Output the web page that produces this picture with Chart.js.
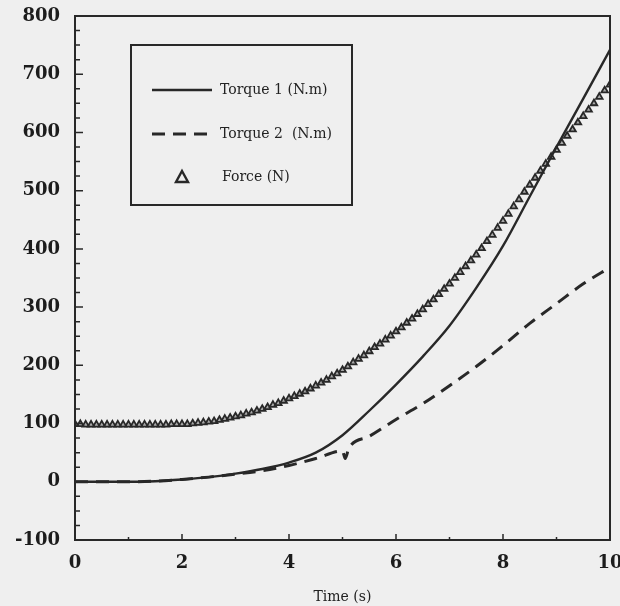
<!DOCTYPE html>
<html>
<head>
<meta charset="utf-8">
<script src="https://cdn.jsdelivr.net/npm/chart.js@4.4.1/dist/chart.umd.min.js"></script>
<style>
html,body{margin:0;padding:0;background:#efefef;}
#wrap{width:620px;height:606px;position:relative;}
</style>
</head>
<body>
<div id="wrap"><canvas id="c" width="620" height="606"></canvas></div>
<script>
// ---------- data ----------
const xTickLabels = [0, 2, 4, 6, 8, 10];
const yTickLabels = [-100, 0, 100, 200, 300, 400, 500, 600, 700, 800];

const torque1Time  = [0, 0.5, 1, 1.5, 2, 2.5, 3, 3.5, 4, 4.5, 5, 5.5, 6, 6.5, 7, 7.5, 8, 8.5, 9, 9.5, 10];
const torque1Value = [0, 0, 0, 1, 4, 8, 14, 22, 33, 50, 80, 122, 167, 215, 268, 333, 405, 490, 575, 658, 742];

const torque2Time  = [0, 0.5, 1, 1.5, 2, 2.5, 3, 3.5, 4, 4.5, 5, 5.05, 5.12, 5.5, 6, 6.5, 7, 7.5, 8, 8.5, 9, 9.5, 10];
const torque2Value = [0, 0, 0, 1, 4, 8, 13, 19, 28, 40, 53, 40, 58, 78, 107, 134, 165, 198, 234, 272, 306, 340, 368];

const forceTime = [0,0.1,0.2,0.3,0.4,0.5,0.6,0.7,0.8,0.9,1,1.1,1.2,1.3,1.4,1.5,1.6,1.7,1.8,1.9,2,2.1,2.2,2.3,2.4,2.5,2.6,2.7,2.8,2.9,3,3.1,3.2,3.3,3.4,3.5,3.6,3.7,3.8,3.9,4,4.1,4.2,4.3,4.4,4.5,4.6,4.7,4.8,4.9,5,5.1,5.2,5.3,5.4,5.5,5.6,5.7,5.8,5.9,6,6.1,6.2,6.3,6.4,6.5,6.6,6.7,6.8,6.9,7,7.1,7.2,7.3,7.4,7.5,7.6,7.7,7.8,7.9,8,8.1,8.2,8.3,8.4,8.5,8.6,8.7,8.8,8.9,9,9.1,9.2,9.3,9.4,9.5,9.6,9.7,9.8,9.9,10];
const forceValue = [99,99,98,98,98,98,98,98,98,98,98,98,98,98,98,98,98,98,99,99,99,99,100,101,102,103,104,106,108,110,112,114,117,119,122,125,128,132,135,139,143,147,151,155,160,165,170,175,181,186,192,198,205,211,217,224,231,237,244,251,258,265,273,280,288,296,305,313,322,331,340,350,360,370,380,390,401,413,424,436,448,460,473,485,498,510,522,534,546,558,570,582,594,605,617,628,639,650,661,672,682];

const seriesNames = ['Torque 1 (N.m)', 'Torque 2  (N.m)', 'Force (N)'];
const xTitle = 'Time (s)';

// ---------- chart ----------
const INK = '#282828';
const pts = (xs, ys) => xs.map((x, i) => ({x: x, y: ys[i]}));

const framePlugin = {
  id: 'frame',
  afterDraw(chart) {
    const ctx = chart.ctx, a = chart.chartArea;
    const xs = chart.scales.x, ys = chart.scales.y;
    ctx.save();
    ctx.strokeStyle = INK;
    ctx.lineWidth = 2;
    ctx.strokeRect(a.left, a.top, a.right - a.left, a.bottom - a.top);
    ctx.lineWidth = 1.5;
    ctx.beginPath();
    for (let v = xs.min; v <= xs.max; v += 1) {
      const px = xs.getPixelForValue(v);
      const len = (v % 2 === 0) ? 6 : 3;
      ctx.moveTo(px, a.bottom);
      ctx.lineTo(px, a.bottom - len);
    }
    for (let v = ys.min; v <= ys.max; v += 25) {
      const py = ys.getPixelForValue(v);
      const len = (v % 100 === 0) ? 8 : 5;
      ctx.moveTo(a.left, py);
      ctx.lineTo(a.left + len, py);
    }
    ctx.stroke();
    ctx.restore();
  }
};

const legendPlugin = {
  id: 'boxLegend',
  afterDraw(chart) {
    const ctx = chart.ctx;
    const ds = chart.data.datasets;
    const bx = 131, by = 45, bw = 221, bh = 160;
    ctx.save();
    ctx.strokeStyle = INK;
    ctx.lineWidth = 2;
    ctx.strokeRect(bx, by, bw, bh);
    const rows = [90, 134, 177];
    ctx.font = '14px "DejaVu Serif"';
    ctx.fillStyle = '#222';
    ctx.textBaseline = 'middle';
    ctx.textAlign = 'left';
    ctx.setLineDash([]);
    ctx.lineWidth = ds[0].borderWidth;
    ctx.beginPath(); ctx.moveTo(152, rows[0]); ctx.lineTo(212, rows[0]); ctx.stroke();
    ctx.fillText(ds[0].label, 220, rows[0]);
    ctx.setLineDash(ds[1].borderDash);
    ctx.lineWidth = ds[1].borderWidth;
    ctx.beginPath(); ctx.moveTo(152, rows[1]); ctx.lineTo(212, rows[1]); ctx.stroke();
    ctx.setLineDash([]);
    ctx.fillText(ds[1].label, 220, rows[1]);
    ctx.lineWidth = 2.4;
    ctx.beginPath();
    ctx.moveTo(182, rows[2] - 6);
    ctx.lineTo(188, rows[2] + 5);
    ctx.lineTo(176, rows[2] + 5);
    ctx.closePath();
    ctx.stroke();
    ctx.fillText(ds[2].label, 222, rows[2]);
    ctx.restore();
  }
};

new Chart(document.getElementById('c'), {
  type: 'line',
  data: {
    datasets: [
      {
        label: seriesNames[0],
        data: pts(torque1Time, torque1Value),
        borderColor: INK, borderWidth: 2.4,
        pointRadius: 0, cubicInterpolationMode: 'monotone', fill: false
      },
      {
        label: seriesNames[1],
        data: pts(torque2Time, torque2Value),
        borderColor: INK, borderWidth: 3, borderDash: [13, 8],
        pointRadius: 0, cubicInterpolationMode: 'monotone', fill: false
      },
      {
        label: seriesNames[2],
        data: pts(forceTime, forceValue),
        showLine: false,
        pointStyle: 'triangle', pointRadius: 3.8, pointBorderWidth: 1.8,
        pointBorderColor: INK, pointBackgroundColor: 'rgba(40,40,40,0.35)'
      }
    ]
  },
  options: {
    responsive: false,
    animation: false,
    events: [],
    layout: {padding: {top: 16, right: 10, bottom: 0, left: 0}},
    plugins: {legend: {display: false}, tooltip: {enabled: false}},
    scales: {
      x: {
        type: 'linear', min: 0, max: 10,
        afterBuildTicks: s => { s.ticks = xTickLabels.map(v => ({value: v})); },
        afterFit: s => { s.height = 66; s.paddingRight = 0; s.paddingLeft = 0; },
        grid: {display: false, drawTicks: false},
        border: {display: false},
        ticks: {padding: 13, maxRotation: 0, autoSkip: false, color: '#1c1c1c',
                font: {family: 'DejaVu Serif', size: 18, weight: 'bold'}},
        title: {display: true, text: xTitle, color: '#222',
                font: {family: 'DejaVu Serif', size: 14}, padding: {top: 0, bottom: 0}}
      },
      y: {
        type: 'linear', min: -100, max: 800,
        afterBuildTicks: s => { s.ticks = yTickLabels.map(v => ({value: v})); },
        afterFit: s => { s.width = 75; s.paddingTop = 0; s.paddingBottom = 0; },
        grid: {display: false, drawTicks: false},
        border: {display: false},
        ticks: {padding: 15, color: '#1c1c1c', font: {family: 'DejaVu Serif', size: 18, weight: 'bold'}}
      }
    }
  },
  plugins: [framePlugin, legendPlugin]
});
</script>
</body>
</html>
